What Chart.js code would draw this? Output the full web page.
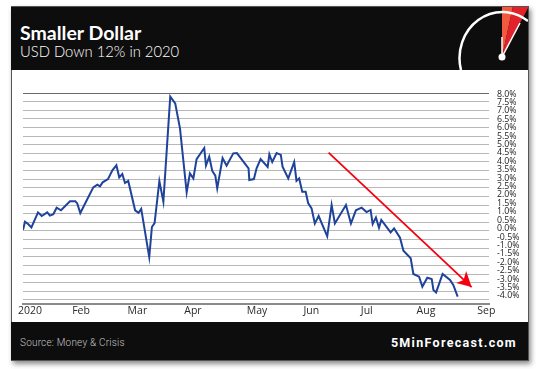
<!DOCTYPE html>
<html>
<head>
<meta charset="utf-8">
<script src="https://cdn.jsdelivr.net/npm/chart.js@4"></script>
<style>
  html, body { margin: 0; padding: 0; background: #fff; width: 540px; height: 369px; overflow: hidden; }
  #card { position: absolute; left: 11px; top: 6px; width: 516px; height: 353px; background: #fff;
          border: 1px solid #555; box-shadow: 2px 3px 5px rgba(0,0,0,.45); }
  #head { position: absolute; left: 11px; top: 7px; width: 517px; height: 63px; background: #0d0d0d; overflow: hidden; }
  #foot { position: absolute; left: 11px; top: 322px; width: 517px; height: 38px; background: #0d0d0d; }
  #title { position: absolute; left: 9px; top: 14px; font: 700 19.5px Lato, sans-serif; color: #fff; }
  #sub { position: absolute; left: 9px; top: 35px; font: 300 14.8px Lato, sans-serif; color: #fff; }
  #source { position: absolute; left: 9px; top: 15px; font: 300 10px Roboto, sans-serif; color: #c4c4c4; letter-spacing: .2px; }
  #site { position: absolute; right: 11px; top: 13px; font: 700 12.5px Roboto, sans-serif; color: #fff; letter-spacing: 1.3px; }
  #gauge { position: absolute; left: 0; top: 0; }
  canvas { position: absolute; left: 0; top: 0; }
</style>
</head>
<body>
<div id="card"></div>
<div id="head">
  <div id="title">Smaller Dollar</div>
  <div id="sub">USD Down 12% in 2020</div>
  <svg id="gauge" width="517" height="63">
    <polygon points="491,50 491,-1 502,-1" fill="#f2593f"/>
    <polygon points="491,50 502,-1 518,-1" fill="#e1222b"/>
    <path d="M 450 63 A 43 46 0 0 1 517 14" fill="none" stroke="#fff" stroke-width="2.5"/>
    <line x1="491" y1="50" x2="491" y2="30" stroke="#fff" stroke-width="1.5"/>
    <line x1="491" y1="50" x2="509" y2="16" stroke="#fff" stroke-width="1.5"/>
    <circle cx="491" cy="50" r="3.5" fill="#fff"/>
  </svg>
</div>
<div id="foot">
  <div id="source">Source: Money &amp; Crisis</div>
  <div id="site">5MinForecast.com</div>
</div>
<canvas id="chart" width="540" height="369"></canvas>
<script>
// days since Jan 1 2020, USD change in %
const days = [0, 1.05, 2.8, 4.4, 7.85, 9.8, 12.7, 14.1, 15.9, 17.6, 19.9, 24.6, 27.4, 28.4, 30, 36.8, 38.9, 40.3, 41.7, 44.5,
  46.8, 48.9, 50.4, 52, 53.4, 55.1, 58.7, 60.5, 61.9, 66.1, 67.5, 68.9, 71.4, 73.5, 77.1, 79.7, 82.2, 85.7, 87.4, 89.2,
  90.9, 94.9, 95.8, 97.5, 99.1, 100.7, 101.7, 104.5, 106.6, 110.1, 112, 118.1, 118.5, 120.9, 122.3, 124.4, 128.1, 129, 130.5, 132.8,
  135, 135.9, 138.9, 142, 143.2, 144.6, 146.2, 148, 149.3, 151.1, 152.8, 154.8, 159.3, 161.6, 163.3, 169.1, 171.7, 174.3, 177.3, 179.9,
  182, 183.1, 184.8, 186.4, 187.6, 192.5, 194.3, 197.4, 199.2, 203, 204.4, 207.4, 209.1, 211.7, 214, 214.9, 216.3, 219.7, 223.6, 225.3, 227.6];
const usd = [0.06, 0.54, 0.39, 0.21, 1.08, 0.87, 1.08, 0.89, 0.97, 1.35, 1.2, 1.72, 1.72, 1.6, 1.04, 2.53, 2.69, 2.59, 2.82, 3.01,
  3.52, 3.81, 3.11, 3.3, 2.78, 2.9, 1.2, 1.05, 1.28, -1.51, 0.23, 0.46, 2.9, 1.7, 7.79, 7.4, 5.95, 2.24, 3.34, 3.05,
  4.17, 4.81, 3.79, 4.31, 3.48, 3.21, 2.47, 4.23, 3.79, 4.5, 4.52, 3.63, 2.96, 3.01, 3.63, 4.17, 3.71, 4.44, 4.0, 4.52,
  4.41, 3.73, 3.05, 4.0, 2.9, 3.05, 2.28, 2.28, 1.62, 1.31, 0.43, 0.87, -0.31, 1.51, 0.44, 1.51, 0.43, 1.2, 1.35, 1.1,
  1.22, 0.41, 0.79, 0.19, 0.64, -0.08, 0.15, -0.39, -1.14, -1.58, -2.49, -2.65, -3.23, -2.71, -2.78, -3.42, -3.56, -2.49, -2.84, -3.13, -3.81];

const monthDays = [3.7, 30.4, 59.9, 89, 122.5, 151, 180, 211, 242.6];
const monthLabels = ['2020', 'Feb', 'Mar', 'Apr', 'May', 'Jun', 'Jul', 'Aug', 'Sep'];
const yTicks = [8, 7.5, 7, 6.5, 6, 5.5, 5, 4.5, 4, 3.5, 3, 2.5, 2, 1.5, 1, 0.5, 0, -0.5, -1, -1.5, -2, -2.5, -3, -3.5, -4];

const arrowDays = [160, 234.9];
const arrowValues = [4.54, -3.25];

const points = days.map((d, i) => ({ x: d, y: usd[i] }));
const arrowPoints = arrowDays.map((d, i) => ({ x: d, y: arrowValues[i] }));

// arrow head, sits on the end of the red line
const arrowHead = {
  id: 'arrowHead',
  afterDatasetsDraw(chart) {
    const c = chart.ctx;
    const tipX = chart.scales.x.getPixelForValue(arrowDays[1]);
    const tipY = chart.scales.y.getPixelForValue(arrowValues[1]);
    c.save();
    c.fillStyle = '#f5000f';
    c.beginPath();
    c.moveTo(tipX, tipY);
    c.lineTo(tipX - 15.5, tipY - 4);
    c.lineTo(tipX - 8, tipY - 7);
    c.lineTo(tipX - 5.5, tipY - 16);
    c.closePath();
    c.fill();
    c.restore();
  }
};

new Chart(document.getElementById('chart'), {
  type: 'line',
  data: {
    datasets: [
      { data: points, borderColor: '#1f439b', borderWidth: 2, pointRadius: 0, tension: 0, yAxisID: 'y' },
      { data: arrowPoints, borderColor: '#f5000f', borderWidth: 1.8, pointRadius: 0, tension: 0, yAxisID: 'y' }
    ]
  },
  options: {
    responsive: false,
    animation: false,
    layout: { padding: { left: 23, top: 93, right: 0, bottom: 47 } },
    plugins: { legend: { display: false }, tooltip: { enabled: false } },
    scales: {
      x: {
        type: 'linear',
        min: 0,
        max: 244,
        afterBuildTicks: s => { s.ticks = monthDays.map(v => ({ value: v })); },
        afterFit: s => { s.height = 18; },
        grid: { display: false, drawTicks: false },
        border: { color: '#8a8a8a', width: 2 },
        ticks: {
          autoSkip: false,
          maxRotation: 0,
          padding: 1,
          color: '#2b2b2b',
          font: { family: 'Open Sans', size: 10.5 },
          callback: (v, i) => monthLabels[i]
        }
      },
      // gridlines: 8.0 at the top line, -4.0 a little above the x axis
      y: {
        position: 'left',
        min: -4.232,
        max: 8,
        afterBuildTicks: s => { s.ticks = yTicks.map(v => ({ value: v })); },
        afterFit: s => { s.width = 0; },
        border: { display: false },
        grid: {
          drawTicks: false,
          lineWidth: 1,
          color: c => c.tick.value === 8 ? '#6a6a6a' : '#b8b8b8'
        },
        ticks: { display: false }
      },
      // the printed labels are spaced tighter than the gridlines
      y2: {
        position: 'right',
        min: -4.48,
        max: 8.06,
        afterBuildTicks: s => { s.ticks = yTicks.map(v => ({ value: v })); },
        afterFit: s => { s.width = 51; },
        border: { display: false },
        grid: { display: false, drawTicks: false },
        ticks: {
          autoSkip: false,
          padding: 8,
          align: 'center',
          crossAlign: 'near',
          color: '#222',
          font: { family: 'Open Sans', size: 8.8 },
          callback: v => v.toFixed(1) + '%'
        }
      }
    }
  },
  plugins: [arrowHead]
});
</script>
</body>
</html>
